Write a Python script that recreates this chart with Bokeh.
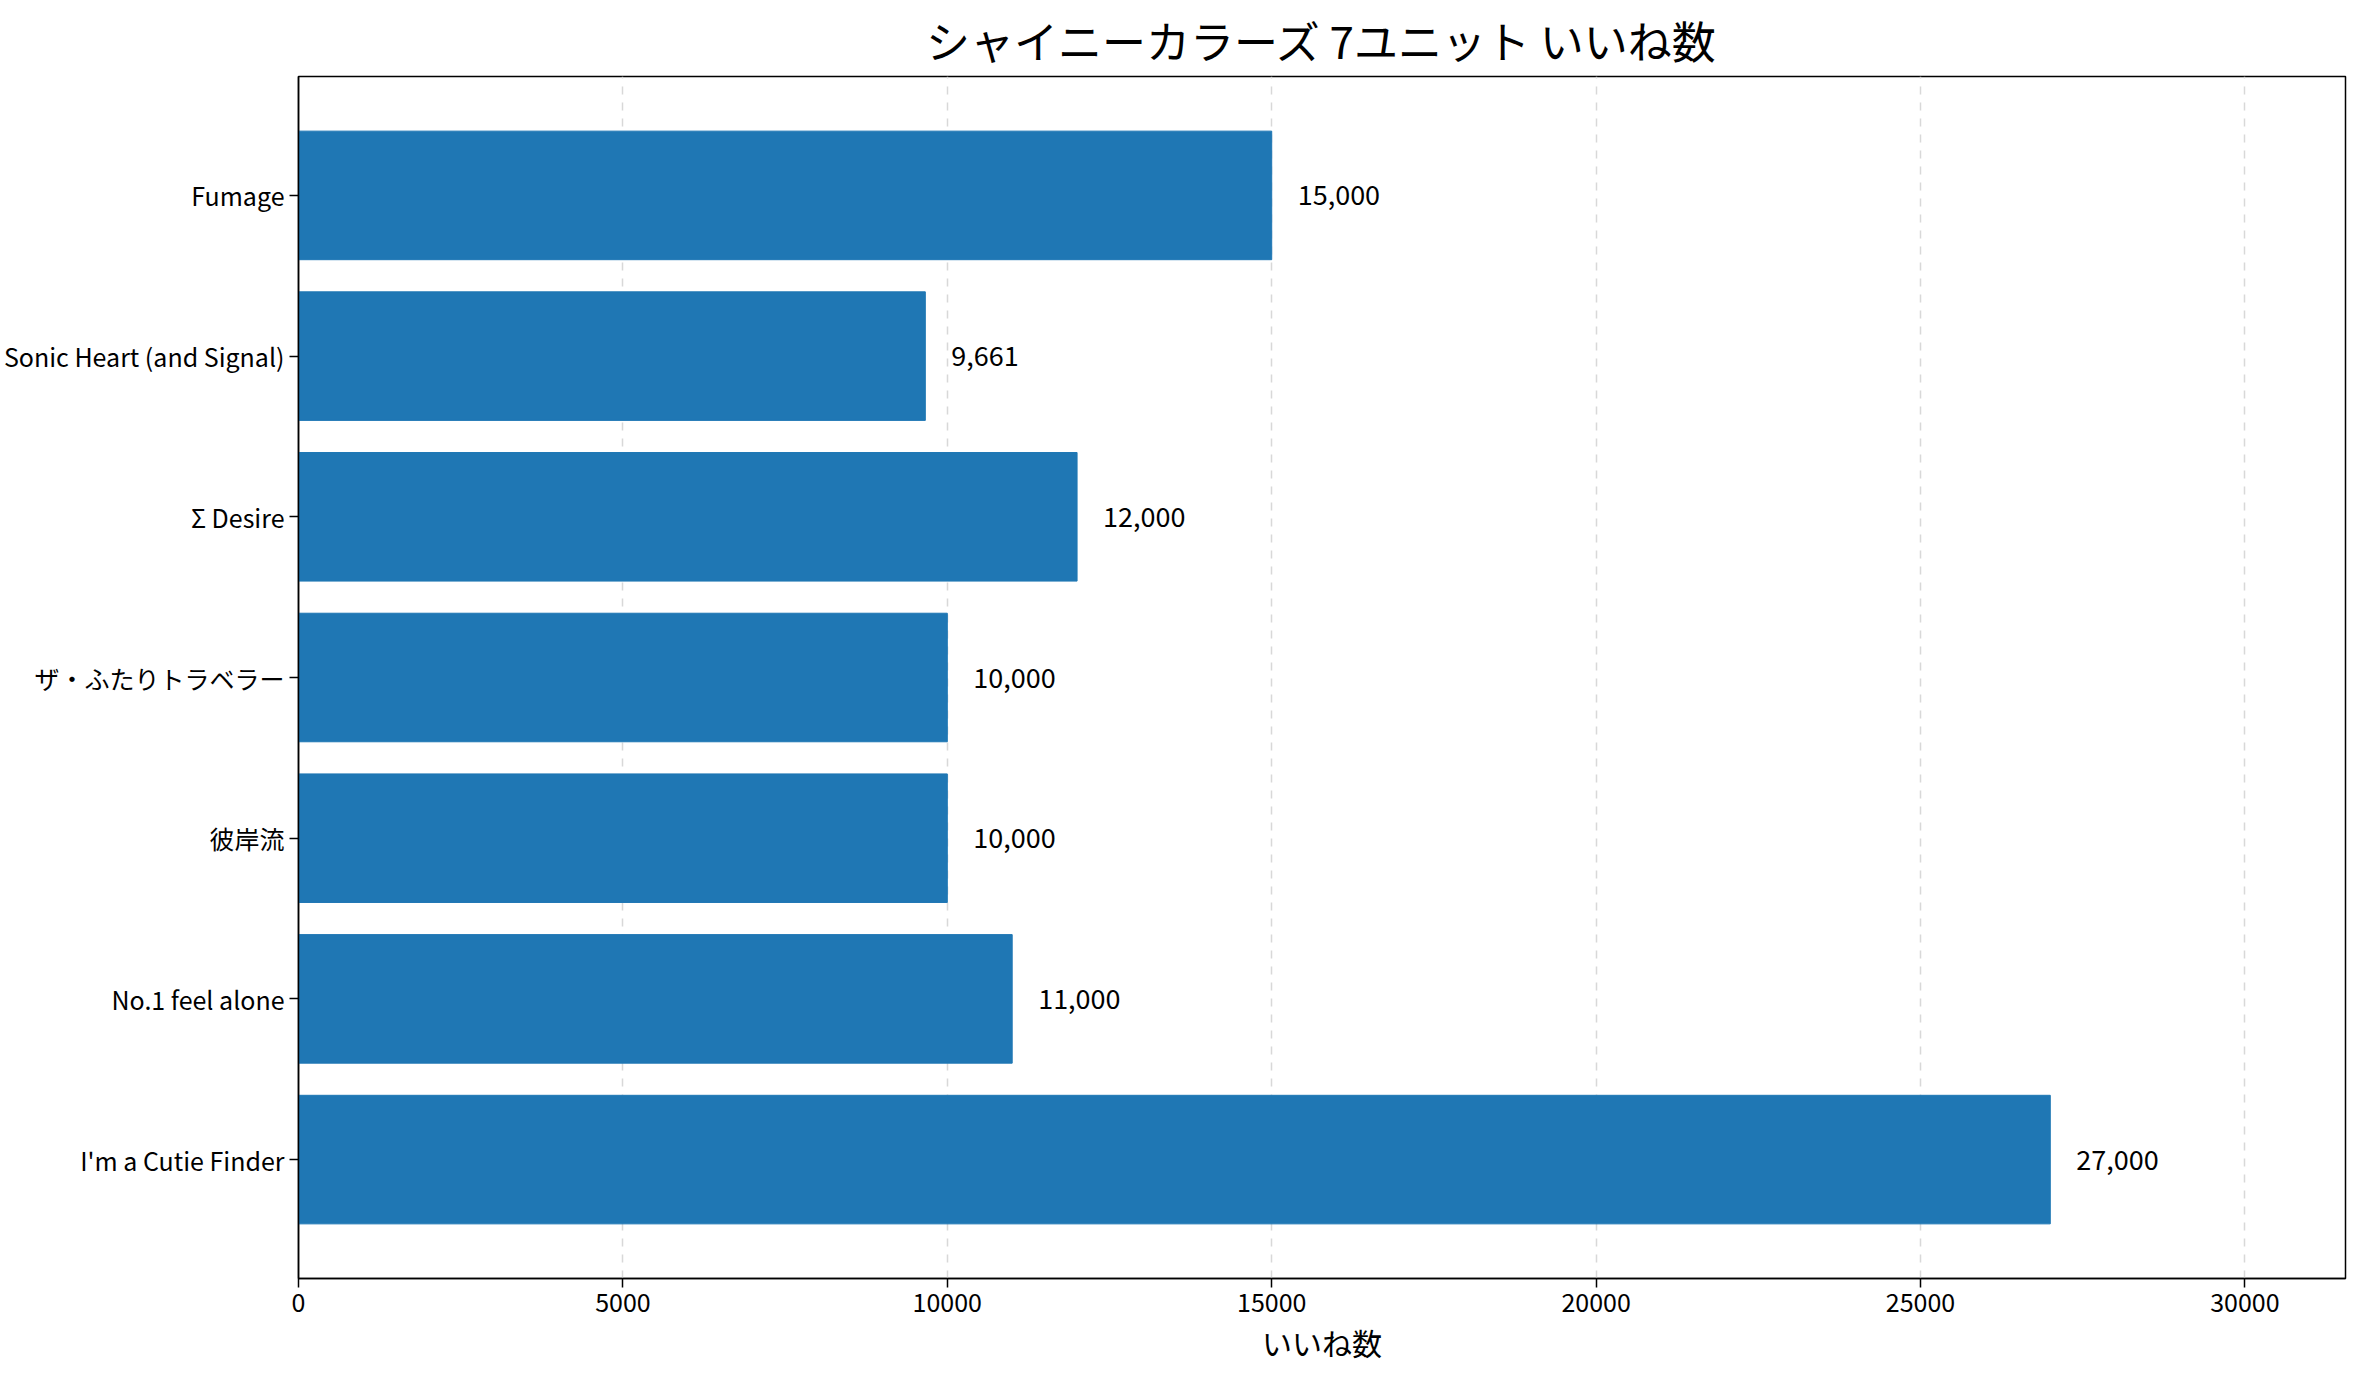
from bokeh.plotting import figure
from bokeh.models import ColumnDataSource, Range1d, FixedTicker
from bokeh.embed import file_html
from bokeh.resources import INLINE
from bokeh.core.properties import value

songs = ["I'm a Cutie Finder", "No.1 feel alone", "彼岸流", "ザ・ふたりトラベラー", "Σ Desire", "Sonic Heart (and Signal)", "Fumage"]
likes = [27000, 11000, 10000, 10000, 12000, 9661, 15000]
labels = [f"{v:,}" for v in likes]
F = "Noto Sans CJK JP"

src = ColumnDataSource(dict(y=list(range(len(songs))), v=likes, lab=labels, lx=[v + 400 for v in likes]))
p = figure(width=2363, height=1366, output_backend="svg", toolbar_location=None,
           x_range=Range1d(0, 31550), y_range=Range1d(-0.74, 6.74),
           title="シャイニーカラーズ 7ユニット いいね数", x_axis_label="いいね数")
p.hbar(y="y", right="v", left=0, height=0.8, source=src, color="#1f77b4")
p.text(x="lx", y="y", text="lab", source=src, text_font=value(F), text_font_size="27px",
       text_baseline="middle", text_align="left", color="black")
p.title.text_font = F; p.title.text_font_size = "44px"; p.title.text_font_style = "normal"
p.title.align = "center"; p.title.text_color = "black"
p.xaxis.ticker = FixedTicker(ticks=[0, 5000, 10000, 15000, 20000, 25000, 30000])
p.yaxis.ticker = FixedTicker(ticks=list(range(len(songs))))
p.yaxis.major_label_overrides = {i: s for i, s in enumerate(songs)}
for ax in (p.xaxis, p.yaxis):
    ax.major_label_text_font = F; ax.major_label_text_font_size = "25px"
    ax.major_label_text_color = "black"
    ax.axis_label_text_font = F; ax.axis_label_text_font_size = "30px"
    ax.axis_label_text_font_style = "normal"; ax.axis_label_text_color = "black"
    ax.minor_tick_line_color = None
    ax.major_tick_out = 9; ax.major_tick_in = 0
    ax.axis_line_color = "black"; ax.major_tick_line_color = "black"
    ax.axis_line_width = 1.5; ax.major_tick_line_width = 1.5
p.ygrid.grid_line_color = None
p.xgrid.grid_line_dash = "8 8"; p.xgrid.grid_line_color = "#d8d8d8"; p.xgrid.grid_line_width = 1.5
p.outline_line_color = "black"; p.outline_line_width = 1.5
p.min_border_left = 15; p.min_border_right = 18; p.min_border_bottom = 20
open("out.html", "w").write(file_html(p, INLINE))
